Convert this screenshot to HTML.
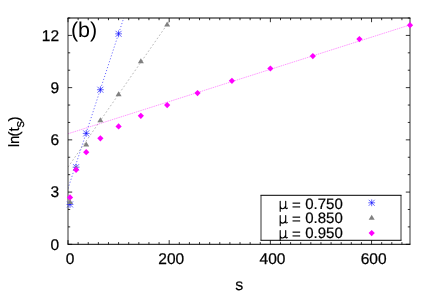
<!DOCTYPE html>
<html><head><meta charset="utf-8"><title>plot</title>
<style>html,body{margin:0;padding:0;background:#fff;}body{width:436px;height:305px;overflow:hidden;position:relative;font-family:"Liberation Sans",sans-serif;}</style>
</head><body>
<svg width="436" height="305" viewBox="0 0 436 305" style="position:absolute;left:0;top:0;filter:blur(0.45px);text-rendering:geometricPrecision">
<rect x="0" y="0" width="436" height="305" fill="#fff"/>
<defs><clipPath id="c"><rect x="68.00" y="18.00" width="342.00" height="226.30"/></clipPath></defs>
<line clip-path="url(#c)" x1="68.00" y1="188.60" x2="410.00" y2="-858.72" stroke="#0000ff" stroke-width="1.0" stroke-dasharray="1.1 1.99" stroke-opacity="0.6" fill="none"/>
<line clip-path="url(#c)" x1="68.00" y1="167.18" x2="168.68" y2="22.21" stroke="#808080" stroke-width="0.9" stroke-dasharray="1.8 2.1" stroke-opacity="0.6" fill="none"/>
<line clip-path="url(#c)" x1="68.00" y1="133.76" x2="410.00" y2="24.91" stroke="#ff00ff" stroke-width="0.8" stroke-dasharray="1.5 0.8" stroke-opacity="0.5" fill="none"/>
<path d="M68.00 18.00H410.00M68.00 244.30H410.00" stroke="#000" stroke-width="1.0" fill="none" stroke-linecap="square"/>
<path d="M68.00 18.00V244.30M410.00 18.00V244.30" stroke="#000" stroke-width="0.8" fill="none"/>
<path d="M68.00 244.30v-4.20M68.00 18.00v4.20M78.12 244.30v-2.20M78.12 18.00v2.20M88.24 244.30v-2.20M88.24 18.00v2.20M98.36 244.30v-2.20M98.36 18.00v2.20M108.47 244.30v-2.20M108.47 18.00v2.20M118.59 244.30v-2.20M118.59 18.00v2.20M128.71 244.30v-2.20M128.71 18.00v2.20M138.83 244.30v-2.20M138.83 18.00v2.20M148.95 244.30v-2.20M148.95 18.00v2.20M159.07 244.30v-2.20M159.07 18.00v2.20M169.18 244.30v-4.20M169.18 18.00v4.20M179.30 244.30v-2.20M179.30 18.00v2.20M189.42 244.30v-2.20M189.42 18.00v2.20M199.54 244.30v-2.20M199.54 18.00v2.20M209.66 244.30v-2.20M209.66 18.00v2.20M219.78 244.30v-2.20M219.78 18.00v2.20M229.89 244.30v-2.20M229.89 18.00v2.20M240.01 244.30v-2.20M240.01 18.00v2.20M250.13 244.30v-2.20M250.13 18.00v2.20M260.25 244.30v-2.20M260.25 18.00v2.20M270.37 244.30v-4.20M270.37 18.00v4.20M280.49 244.30v-2.20M280.49 18.00v2.20M290.60 244.30v-2.20M290.60 18.00v2.20M300.72 244.30v-2.20M300.72 18.00v2.20M310.84 244.30v-2.20M310.84 18.00v2.20M320.96 244.30v-2.20M320.96 18.00v2.20M331.08 244.30v-2.20M331.08 18.00v2.20M341.20 244.30v-2.20M341.20 18.00v2.20M351.31 244.30v-2.20M351.31 18.00v2.20M361.43 244.30v-2.20M361.43 18.00v2.20M371.55 244.30v-4.20M371.55 18.00v4.20M381.67 244.30v-2.20M381.67 18.00v2.20M391.79 244.30v-2.20M391.79 18.00v2.20M401.91 244.30v-2.20M401.91 18.00v2.20M68.00 244.30h4.20M410.00 244.30h-4.20M68.00 226.89h2.20M410.00 226.89h-2.20M68.00 209.48h2.20M410.00 209.48h-2.20M68.00 192.08h4.20M410.00 192.08h-4.20M68.00 174.67h2.20M410.00 174.67h-2.20M68.00 157.26h2.20M410.00 157.26h-2.20M68.00 139.85h4.20M410.00 139.85h-4.20M68.00 122.45h2.20M410.00 122.45h-2.20M68.00 105.04h2.20M410.00 105.04h-2.20M68.00 87.63h4.20M410.00 87.63h-4.20M68.00 70.22h2.20M410.00 70.22h-2.20M68.00 52.82h2.20M410.00 52.82h-2.20M68.00 35.41h4.20M410.00 35.41h-4.20M68.00 18.00h2.20M410.00 18.00h-2.20" stroke="#000" stroke-width="0.8" fill="none"/>
<path d="M66.62 204.44h6.80M70.02 201.04v6.80M67.02 201.44l6.00 6.00M67.02 207.44l6.00 -6.00" stroke="#0000ff" stroke-width="0.6" fill="none"/>
<path d="M72.69 167.18h6.80M76.09 163.78v6.80M73.09 164.18l6.00 6.00M73.09 170.18l6.00 -6.00" stroke="#0000ff" stroke-width="0.6" fill="none"/>
<path d="M82.81 133.41h6.80M86.21 130.01v6.80M83.21 130.41l6.00 6.00M83.21 136.41l6.00 -6.00" stroke="#0000ff" stroke-width="0.6" fill="none"/>
<path d="M96.98 89.72h6.80M100.38 86.32v6.80M97.38 86.72l6.00 6.00M97.38 92.72l6.00 -6.00" stroke="#0000ff" stroke-width="0.6" fill="none"/>
<path d="M115.19 33.84h6.80M118.59 30.44v6.80M115.59 30.84l6.00 6.00M115.59 36.84l6.00 -6.00" stroke="#0000ff" stroke-width="0.6" fill="none"/>
<path d="M70.02 199.00L73.02 204.00L67.02 204.00Z" fill="#808080"/>
<path d="M76.09 165.23L79.09 170.23L73.09 170.23Z" fill="#808080"/>
<path d="M86.21 141.38L89.21 146.38L83.21 146.38Z" fill="#808080"/>
<path d="M100.38 117.18L103.38 122.18L97.38 122.18Z" fill="#808080"/>
<path d="M118.59 91.25L121.59 96.25L115.59 96.25Z" fill="#808080"/>
<path d="M140.85 58.17L143.85 63.17L137.85 63.17Z" fill="#808080"/>
<path d="M167.16 21.61L170.16 26.61L164.16 26.61Z" fill="#808080"/>
<path d="M70.02 194.37L73.12 197.47L70.02 200.57L66.92 197.47Z" fill="#ff00ff"/>
<path d="M76.09 166.70L79.19 169.80L76.09 172.90L72.99 169.80Z" fill="#ff00ff"/>
<path d="M86.21 149.11L89.31 152.21L86.21 155.31L83.11 152.21Z" fill="#ff00ff"/>
<path d="M100.38 135.19L103.48 138.29L100.38 141.39L97.28 138.29Z" fill="#ff00ff"/>
<path d="M118.59 123.35L121.69 126.45L118.59 129.55L115.49 126.45Z" fill="#ff00ff"/>
<path d="M140.85 112.73L143.95 115.83L140.85 118.93L137.75 115.83Z" fill="#ff00ff"/>
<path d="M167.16 101.94L170.26 105.04L167.16 108.14L164.06 105.04Z" fill="#ff00ff"/>
<path d="M197.51 89.93L200.61 93.03L197.51 96.13L194.41 93.03Z" fill="#ff00ff"/>
<path d="M231.92 77.74L235.02 80.84L231.92 83.94L228.82 80.84Z" fill="#ff00ff"/>
<path d="M270.37 65.38L273.47 68.48L270.37 71.58L267.27 68.48Z" fill="#ff00ff"/>
<path d="M312.86 53.02L315.96 56.12L312.86 59.22L309.76 56.12Z" fill="#ff00ff"/>
<path d="M359.41 35.96L362.51 39.06L359.41 42.16L356.31 39.06Z" fill="#ff00ff"/>
<path d="M410.00 22.04L413.10 25.14L410.00 28.24L406.90 25.14Z" fill="#ff00ff"/>
<rect x="261.00" y="195.30" width="140.00" height="45.00" fill="#fff"/>
<path d="M261.00 195.30H401.00M261.00 240.30H401.00" stroke="#000" stroke-width="1.0" fill="none" stroke-linecap="square"/>
<path d="M261.00 195.30V240.30M401.00 195.30V240.30" stroke="#000" stroke-width="0.8" fill="none"/>
<path d="M368.30 202.80h6.80M371.70 199.40v6.80M368.70 199.80l6.00 6.00M368.70 205.80l6.00 -6.00" stroke="#0000ff" stroke-width="0.6" fill="none"/>
<path d="M371.70 214.70L374.70 219.70L368.70 219.70Z" fill="#808080"/>
<path d="M371.70 230.00L374.80 233.10L371.70 236.20L368.60 233.10Z" fill="#ff00ff"/>
<path transform="translate(280.2 208.70)" d="M0 -7.5V2.6M0 -7.5V-2.6C0 0.7 4.3 1.1 5.5 -2.8M5.5 -7.5V-1.2C5.5 -0.2 6.1 0.2 7.1 -0.5" fill="none" stroke="#000" stroke-width="1.15" stroke-linecap="round" stroke-linejoin="round"/>
<text x="291.9" y="209.60" font-family="Liberation Sans, sans-serif" font-size="15" fill="#000" stroke="#000" stroke-width="0.2">=</text>
<text x="305.2" y="208.70" font-family="Liberation Sans, sans-serif" font-size="15" fill="#000" stroke="#000" stroke-width="0.2">0.750</text>
<path transform="translate(280.2 223.10)" d="M0 -7.5V2.6M0 -7.5V-2.6C0 0.7 4.3 1.1 5.5 -2.8M5.5 -7.5V-1.2C5.5 -0.2 6.1 0.2 7.1 -0.5" fill="none" stroke="#000" stroke-width="1.15" stroke-linecap="round" stroke-linejoin="round"/>
<text x="291.9" y="224.00" font-family="Liberation Sans, sans-serif" font-size="15" fill="#000" stroke="#000" stroke-width="0.2">=</text>
<text x="305.2" y="223.10" font-family="Liberation Sans, sans-serif" font-size="15" fill="#000" stroke="#000" stroke-width="0.2">0.850</text>
<path transform="translate(280.2 238.00)" d="M0 -7.5V2.6M0 -7.5V-2.6C0 0.7 4.3 1.1 5.5 -2.8M5.5 -7.5V-1.2C5.5 -0.2 6.1 0.2 7.1 -0.5" fill="none" stroke="#000" stroke-width="1.15" stroke-linecap="round" stroke-linejoin="round"/>
<text x="291.9" y="238.90" font-family="Liberation Sans, sans-serif" font-size="15" fill="#000" stroke="#000" stroke-width="0.2">=</text>
<text x="305.2" y="238.00" font-family="Liberation Sans, sans-serif" font-size="15" fill="#000" stroke="#000" stroke-width="0.2">0.950</text>
<text x="70.10" y="264.2" text-anchor="middle" font-family="Liberation Sans, sans-serif" font-size="15.5" fill="#000" stroke="#000" stroke-width="0.25">0</text>
<text x="171.28" y="264.2" text-anchor="middle" font-family="Liberation Sans, sans-serif" font-size="15.5" fill="#000" stroke="#000" stroke-width="0.25">200</text>
<text x="272.47" y="264.2" text-anchor="middle" font-family="Liberation Sans, sans-serif" font-size="15.5" fill="#000" stroke="#000" stroke-width="0.25">400</text>
<text x="373.65" y="264.2" text-anchor="middle" font-family="Liberation Sans, sans-serif" font-size="15.5" fill="#000" stroke="#000" stroke-width="0.25">600</text>
<text x="59.1" y="249.60" text-anchor="end" font-family="Liberation Sans, sans-serif" font-size="15.5" fill="#000" stroke="#000" stroke-width="0.25">0</text>
<text x="59.1" y="197.38" text-anchor="end" font-family="Liberation Sans, sans-serif" font-size="15.5" fill="#000" stroke="#000" stroke-width="0.25">3</text>
<text x="59.1" y="145.15" text-anchor="end" font-family="Liberation Sans, sans-serif" font-size="15.5" fill="#000" stroke="#000" stroke-width="0.25">6</text>
<text x="59.1" y="92.93" text-anchor="end" font-family="Liberation Sans, sans-serif" font-size="15.5" fill="#000" stroke="#000" stroke-width="0.25">9</text>
<text x="59.1" y="40.71" text-anchor="end" font-family="Liberation Sans, sans-serif" font-size="15.5" fill="#000" stroke="#000" stroke-width="0.25">12</text>
<text x="70.9" y="37.4" font-family="Liberation Sans, sans-serif" font-size="21.5" fill="#000">(b)</text>
<text x="239.3" y="289.5" text-anchor="middle" font-family="Liberation Sans, sans-serif" font-size="16" fill="#000" stroke="#000" stroke-width="0.2">s</text>
<text transform="translate(18.9 147.3) rotate(-90)" font-family="Liberation Sans, sans-serif" font-size="15" fill="#000" stroke="#000" stroke-width="0.2">ln<tspan dx="-0.9">(t</tspan><tspan font-size="13" dy="5" dx="-0.2">s</tspan><tspan dy="-5" dx="-0.5">)</tspan></text>
</svg>
</body></html>
